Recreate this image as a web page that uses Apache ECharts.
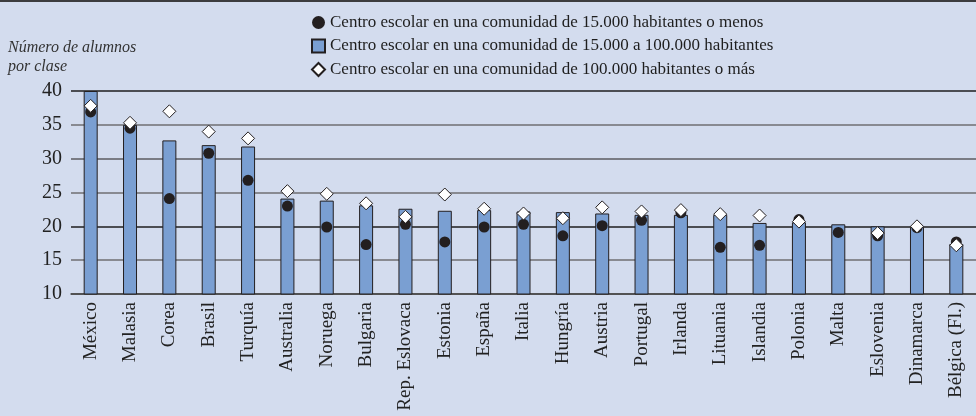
<!DOCTYPE html>
<html>
<head>
<meta charset="utf-8">
<script src="https://cdn.jsdelivr.net/npm/echarts@6/dist/echarts.min.js"></script>
<style>
  html, body { margin: 0; padding: 0; background: #d3dcee; }
  #chart { width: 976px; height: 416px; }
</style>
</head>
<body>
<div id="chart"></div>
<script>
// Countries, sorted by class size in mid-sized communities
const countries = ['México', 'Malasia', 'Corea', 'Brasil', 'Turquía', 'Australia', 'Noruega', 'Bulgaria',
  'Rep. Eslovaca', 'Estonia', 'España', 'Italia', 'Hungría', 'Austria', 'Portugal', 'Irlanda',
  'Lituania', 'Islandia', 'Polonia', 'Malta', 'Eslovenia', 'Dinamarca', 'Bélgica (Fl.)'];

// Students per class, communities of 15 000 to 100 000 inhabitants (bars)
const midSize = [40.0, 35.0, 32.7, 32.0, 31.8, 24.1, 23.8, 23.1, 22.6, 22.3, 22.4, 22.2, 22.1, 21.9,
  21.7, 21.7, 21.7, 20.5, 20.6, 20.3, 20.0, 19.9, 17.4];

// Communities of 15 000 inhabitants or fewer (black dots)
const small = [36.9, 34.5, 24.1, 30.8, 26.8, 23.0, 19.9, 17.3, 20.3, 17.7, 19.9, 20.3, 18.6, 20.1,
  20.9, 22.0, 16.9, 17.2, 21.0, 19.1, 18.6, 19.8, 17.7];

// Communities of 100 000 inhabitants or more (white diamonds); no value for Malta
const large = [37.8, 35.3, 37.0, 34.0, 33.0, 25.2, 24.8, 23.4, 21.4, 24.7, 22.6, 21.9, 21.2, 22.8,
  22.2, 22.4, 21.8, 21.6, 20.7, null, 19.0, 20.0, 17.2];

const seriesNames = [
  'Centro escolar en una comunidad de 15.000 habitantes o menos',
  'Centro escolar en una comunidad de 15.000 a 100.000 habitantes',
  'Centro escolar en una comunidad de 100.000 habitantes o más'
];

const yTicks = { min: 10, max: 40, interval: 5 };

const serif = '"Liberation Serif", "DejaVu Serif", serif';
const ink = '#231f20';

const chart = echarts.init(document.getElementById('chart'), null, { renderer: 'canvas' });

chart.setOption({
  backgroundColor: '#d3dcee',
  animation: false,
  graphic: [{
    type: 'rect',
    shape: { x: 0, y: 0, width: 976, height: 2 },
    style: { fill: '#3c3c3e' },
    silent: true
  }],
  title: {
    text: 'Número de alumnos\npor clase',
    left: 8,
    top: 38,
    padding: 0,
    textStyle: {
      fontFamily: serif,
      fontStyle: 'italic',
      fontWeight: 'normal',
      fontSize: 16,
      lineHeight: 19,
      color: '#333'
    }
  },
  legend: {
    orient: 'vertical',
    left: 311,
    top: 14,
    padding: 0,
    itemWidth: 13,
    itemHeight: 13,
    itemGap: 6.5,
    textStyle: { fontFamily: serif, fontSize: 17, color: '#1e1e1e' },
    data: [
      { name: seriesNames[0], icon: 'circle' },
      { name: seriesNames[1], icon: 'rect' },
      { name: seriesNames[2], icon: 'diamond' }
    ]
  },
  grid: {
    left: 71,
    top: 91,
    width: 909.7,
    height: 203,
    containLabel: false
  },
  xAxis: {
    type: 'category',
    data: countries,
    boundaryGap: true,
    axisLine: { show: true, lineStyle: { color: '#4a4a4a', width: 1.5 } },
    axisTick: { show: false },
    axisLabel: {
      rotate: 90,
      interval: 0,
      margin: 8,
      fontFamily: serif,
      fontSize: 19,
      color: '#222'
    }
  },
  yAxis: {
    type: 'value',
    min: yTicks.min,
    max: yTicks.max,
    interval: yTicks.interval,
    axisLine: { show: false },
    axisTick: { show: false },
    axisLabel: {
      margin: 9,
      fontFamily: serif,
      fontSize: 20,
      color: '#222'
    },
    splitLine: {
      show: true,
      lineStyle: {
        color: ['#4a4a4a', '#6f6f72', '#1e1e1e', '#6f6f72', '#5c5c60', '#6f6f72', '#1e1e1e'],
        width: 1.5
      }
    }
  },
  series: [
    {
      name: seriesNames[1],
      type: 'bar',
      data: midSize,
      barWidth: 14,
      itemStyle: { color: '#7a9fd2', borderColor: ink, borderWidth: 1 },
      z: 2
    },
    {
      name: seriesNames[0],
      type: 'scatter',
      data: small,
      symbol: 'circle',
      symbolSize: 11,
      itemStyle: { color: ink, opacity: 1 },
      z: 3
    },
    {
      name: seriesNames[2],
      type: 'scatter',
      data: large,
      symbol: 'diamond',
      symbolSize: 13,
      itemStyle: { color: '#ffffff', borderColor: ink, borderWidth: 1, opacity: 1 },
      z: 4
    }
  ]
});
</script>
</body>
</html>
